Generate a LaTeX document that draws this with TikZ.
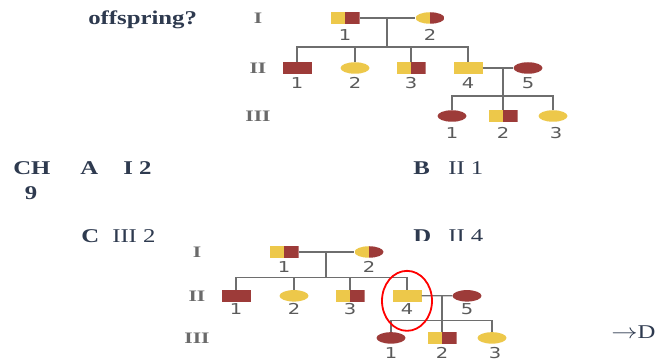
\documentclass[tikz,border=0pt]{standalone}
\usepackage{fontspec}
\usetikzlibrary{shapes.geometric}
\newfontfamily\qfont{Liberation Serif}
\newfontfamily\numfont{DejaVu Sans}
\definecolor{ink}{HTML}{2E3A4F}
\definecolor{yel}{HTML}{EDC84A}
\definecolor{mar}{HTML}{9D3B39}
\definecolor{wirec}{HTML}{6E6E6E}
\definecolor{genc}{HTML}{6A6A6A}
\definecolor{numc}{HTML}{5A5A5A}

\tikzset{
  qtext/.style={font=\qfont\fontsize{19.5}{19.5}\selectfont, text=ink, inner sep=0pt, anchor=base west, xscale=1.27},
  qbold/.style={qtext, font=\qfont\bfseries\fontsize{19.5}{19.5}\selectfont},
  male/.style={rectangle, minimum width=29pt, minimum height=11.5pt, inner sep=0pt},
  female/.style={ellipse, minimum width=29pt, minimum height=11.5pt, inner sep=0pt},
  affected/.style={fill=mar},
  normal/.style={fill=yel},
  carrier/.style={path picture={
      \fill[yel] (path picture bounding box.south west) rectangle (path picture bounding box.north);
      \fill[mar] (path picture bounding box.south) rectangle (path picture bounding box.north east);}},
  wire/.style={draw=wirec, line width=1.2pt},
  gen/.style={font=\qfont\bfseries\fontsize{16}{16}\selectfont, text=genc, xscale=1.35, inner sep=0pt},
  num/.style={font=\numfont\fontsize{15}{15}\selectfont, text=numc, xscale=1.3, inner sep=0pt},
}

% three-generation pedigree, drawn in its own coordinate frame
\newcommand\pedtree{%
  \node[gen] (gI) at (258,18) {I};
  \node[gen] (gII) at (258,68) {II};
  \node[gen] (gIII) at (258,116) {III};
  \node[male,carrier] (I1) at (345,18) {};
  \node[female,carrier] (I2) at (430,18) {};
  \node[male,affected] (II1) at (297,68) {};
  \node[female,normal] (II2) at (355,68) {};
  \node[male,carrier] (II3) at (411,68) {};
  \node[male,normal] (II4) at (468,68) {};
  \node[female,affected] (II5) at (528,68) {};
  \node[female,affected] (III1) at (452,116) {};
  \node[male,carrier] (III2) at (503,116) {};
  \node[female,normal] (III3) at (553,116) {};
  \coordinate (mI) at (387,18);
  \coordinate (sI) at (387,47);
  \coordinate (mII) at (503,68);
  \coordinate (sII) at (503,96);
  \draw[wire] (I1) -- (I2);
  \draw[wire] (mI) -- (sI);
  \draw[wire] (II1.north) |- (sI) -| (II4.north);
  \draw[wire] (II2.north) -- (II2.north |- sI);
  \draw[wire] (II3.north) -- (II3.north |- sI);
  \draw[wire] (II4) -- (II5);
  \draw[wire] (mII) -- (III2.north);
  \draw[wire] (III1.north) |- (sII) -| (III3.north);
  \node[num] (nI1) at (345,35) {1};
  \node[num] (nI2) at (430,35) {2};
  \node[num] (nII1) at (297,83) {1};
  \node[num] (nII2) at (355,83) {2};
  \node[num] (nII3) at (411,83) {3};
  \node[num] (nII4) at (468,83) {4};
  \node[num] (nII5) at (528,83) {5};
  \node[num] (nIII1) at (452,133) {1};
  \node[num] (nIII2) at (503,133) {2};
  \node[num] (nIII3) at (556,133) {3};
}

\begin{document}
\begin{tikzpicture}[x=1pt,y=-1pt]
  \fill[white] (0,0) rectangle (665,361);
  \useasboundingbox (0,0) rectangle (665,361);

  % question and answer choices
  \node[qbold] (q) at (88,25) {offspring?};
  \node[qbold] (ch) at (13,175) {CH};
  \node[qbold, anchor=base] (ch9) at (31,200) {9};
  \node[qbold] (oa) at (80,175) {A};
  \node[qbold] (oav) at (123,175) {I 2};
  \node[qbold] (ob) at (413,175) {B};
  \node[qtext] (obv) at (448,175) {II 1};
  \node[qbold] (oc) at (81,242) {C};
  \node[qtext] (ocv) at (112,242) {III 2};
  \node[qbold] (od) at (413,242) {D};
  \node[qtext] (odv) at (448,242) {II 4};
  \node[qtext] (ans) at (611,338) {$\rightarrow$D};

  % upper pedigree
  \begin{scope}[name prefix=t-]
    \pedtree
  \end{scope}

  % lower pedigree on its own white panel
  \fill[white] (170,241) rectangle (515,361);
  \begin{scope}[shift={(-61,236.2)}, yscale=0.877, name prefix=b-]
    \pedtree
  \end{scope}
  \node[ellipse, draw=red, line width=1.8pt, minimum width=50pt, minimum height=60pt, inner sep=0pt]
    (ring) at ([yshift=-5pt]b-II4) {};
\end{tikzpicture}
\end{document}
